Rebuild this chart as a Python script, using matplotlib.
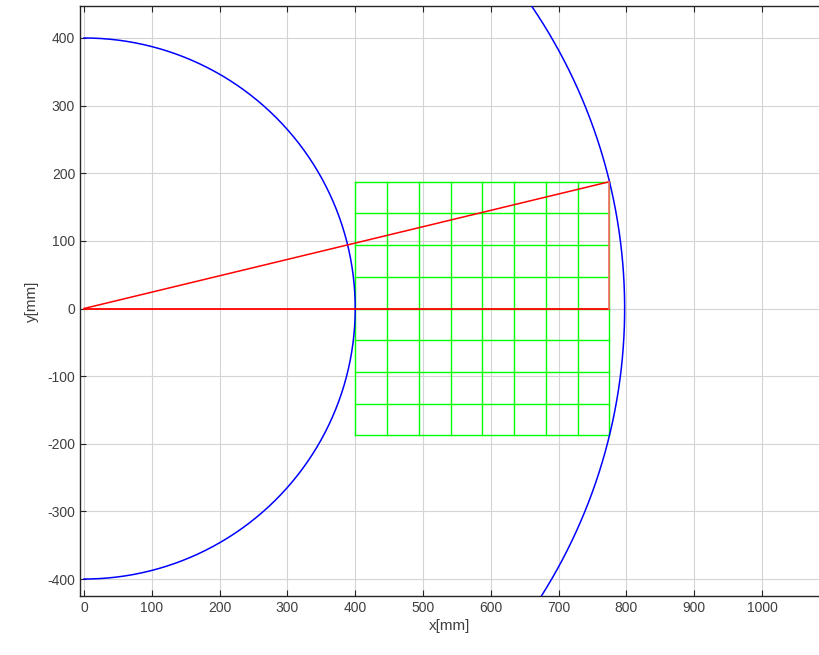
import numpy as np
import matplotlib
matplotlib.use("Agg")
import matplotlib.pyplot as plt

# ---- data ----
inner_radius = 400.0
grid_x_start = 400.0
grid_x_end = 775.0
grid_half_height = 187.5
grid_cells = 8
x_ticks = [0, 100, 200, 300, 400, 500, 600, 700, 800, 900, 1000]
y_ticks = [-400, -300, -200, -100, 0, 100, 200, 300, 400]

outer_radius = np.hypot(grid_x_end, grid_half_height)

plt.rcParams['font.family'] = ['Liberation Sans', 'DejaVu Sans']
plt.rcParams['axes.unicode_minus'] = False
fig = plt.figure(figsize=(8.19, 6.55), dpi=100)
ax = fig.add_axes([80/819, 59/655, 739/819, 590/655])

ax.set_xlim(-5.9, 1084)
ax.set_ylim(-425.1, 447.3)

# grid
ax.grid(True, color='#d4d4d4', linewidth=0.8)
ax.set_axisbelow(True)

# circles
t1 = np.linspace(np.pi/2, -np.pi/2, 400)
ax.plot(inner_radius*np.cos(t1), inner_radius*np.sin(t1), color='#0000ff', lw=1.1, zorder=3)
t2 = np.linspace(-np.pi/2, np.pi/2, 800)
ax.plot(outer_radius*np.cos(t2), outer_radius*np.sin(t2), color='#0000ff', lw=1.1, zorder=3)

# green mesh
gx = np.linspace(grid_x_start, grid_x_end, grid_cells + 1)
gy = np.linspace(-grid_half_height, grid_half_height, grid_cells + 1)
for xv in gx:
    ax.plot([xv, xv], [gy[0], gy[-1]], color='#00ff00', lw=1.0, zorder=2)
for yv in gy:
    ax.plot([gx[0], gx[-1]], [yv, yv], color='#00ff00', lw=1.0, zorder=2)

# red triangle
ax.plot([0, grid_x_end], [0, grid_half_height], color='#ff0000', lw=1.1, zorder=4)
ax.plot([0, grid_x_end], [0, 0], color='#ff0000', lw=1.3, zorder=4)
ax.plot([grid_x_end, grid_x_end], [0, grid_half_height], color='#ff6666', lw=1.2, zorder=4)

ax.set_xticks(x_ticks)
ax.set_yticks(y_ticks)
ax.tick_params(direction='in', length=4, width=0.8, top=True, right=False,
               labelsize=10, labelcolor='#404040', colors='#262626')
for lbl in ax.get_xticklabels() + ax.get_yticklabels():
    lbl.set_color('#404040')
ax.set_xlabel('x[mm]', fontsize=11, color='#404040', labelpad=3)
ax.set_ylabel('y[mm]', fontsize=11, color='#404040', labelpad=6)
for s in ['left', 'bottom', 'top']:
    ax.spines[s].set_color('#262626')
    ax.spines[s].set_linewidth(1.0)
ax.spines['right'].set_visible(False)

fig.savefig('out.png', dpi=100)
